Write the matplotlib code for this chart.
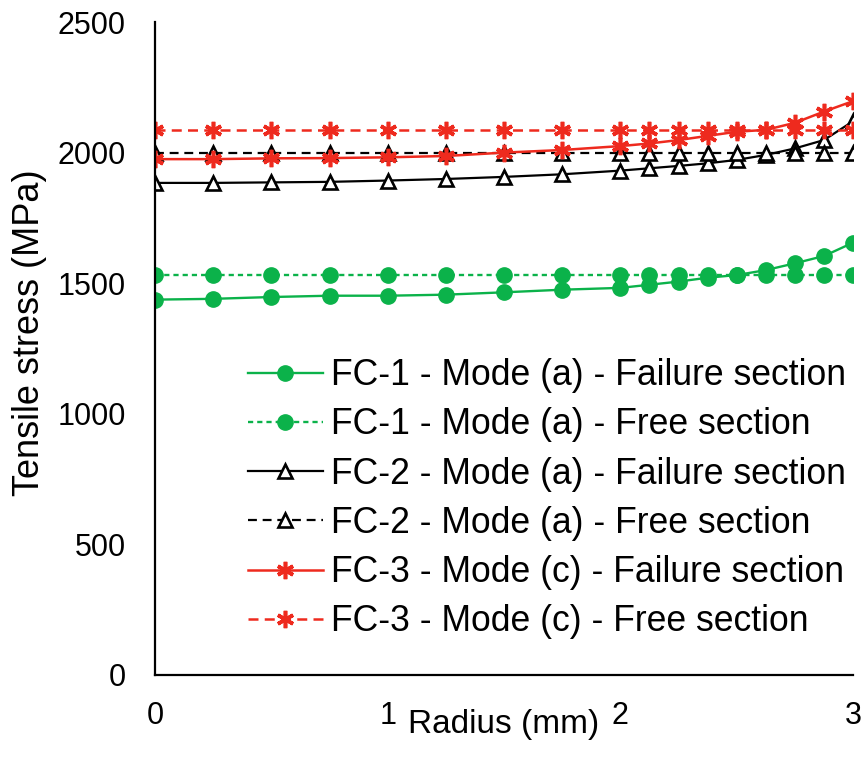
import matplotlib
matplotlib.use("Agg")
import matplotlib.pyplot as plt

plt.rcParams['font.family'] = ['Liberation Sans', 'DejaVu Sans']

# Radius positions (mm)
radius = [0, 0.25, 0.5, 0.75, 1.0, 1.25, 1.5, 1.75, 2.0,
          2.125, 2.25, 2.375, 2.5, 2.625, 2.75, 2.875, 3.0]

# Tensile stress (MPa)
fc1_failure = [1437, 1440, 1447, 1452, 1452, 1456, 1465, 1475, 1482,
               1494, 1506, 1521, 1531, 1550, 1576, 1604, 1655]
fc1_free = [1532] * 17
fc2_failure = [1884, 1884, 1886, 1888, 1893, 1899, 1907, 1917, 1931,
               1940, 1949, 1959, 1972, 1991, 2016, 2048, 2120]
fc2_free = [2000] * 17
fc3_failure = [1975, 1975, 1978, 1979, 1982, 1987, 2000, 2010, 2025,
               2035, 2048, 2064, 2080, 2087, 2114, 2157, 2197]
fc3_free = [2088] * 17

labels = ["FC-1 - Mode (a) - Failure section",
          "FC-1 - Mode (a) - Free section",
          "FC-2 - Mode (a) - Failure section",
          "FC-2 - Mode (a) - Free section",
          "FC-3 - Mode (c) - Failure section",
          "FC-3 - Mode (c) - Free section"]

x_ticks = [0, 1, 2, 3]
y_ticks = [0, 500, 1000, 1500, 2000, 2500]

GREEN = "#0BB24A"
RED = "#EE2A1E"
BLACK = "#000000"
star = (6, 2, 0)

fig = plt.figure(figsize=(8.66, 7.6), dpi=100)
ax = fig.add_axes([0.179, 0.112, 0.806, 0.859])

ax.plot(radius, fc1_failure, color=GREEN, lw=1.7, marker='o', ms=11,
        mec=GREEN, mfc=GREEN, label=labels[0])
ax.plot(radius, fc1_free, color=GREEN, lw=1.7, ls=(0, (2.2, 1.7)), marker='o', ms=11,
        mec=GREEN, mfc=GREEN, label=labels[1])
ax.plot(radius, fc2_failure, color=BLACK, lw=1.6, marker='^', ms=10,
        mec=BLACK, mfc='white', mew=1.9, label=labels[2])
ax.plot(radius, fc2_free, color=BLACK, lw=1.6, ls=(0, (4, 2.6)), marker='^', ms=10,
        mec=BLACK, mfc='white', mew=1.9, label=labels[3])
ax.plot(radius, fc3_failure, color=RED, lw=1.8, marker=star, ms=12.5,
        mec=RED, mew=2.6, label=labels[4])
ax.plot(radius, fc3_free, color=RED, lw=1.8, ls=(0, (4, 2.5)), marker=star, ms=12.5,
        mec=RED, mew=2.6, label=labels[5])

ax.set_xlim(0, 3)
ax.set_ylim(0, 2500)
ax.set_xticks(x_ticks)
ax.set_yticks(y_ticks)
ax.tick_params(axis='both', length=0, labelsize=22)
ax.tick_params(axis='x', pad=19)
ax.tick_params(axis='y', pad=21)

for side in ('top', 'right'):
    ax.spines[side].set_visible(False)
for side in ('left', 'bottom'):
    ax.spines[side].set_linewidth(1.6)

ax.set_xlabel("Radius (mm)", fontsize=24)
ax.xaxis.set_label_coords(0.5, -0.052)
fig.text(0.034, 1 - 333 / 760, "Tensile stress (MPa)", rotation=90,
         ha='center', va='center', fontsize=26)

ax.legend(loc='upper left', bbox_to_anchor=(0.133, 0.485), frameon=False,
          fontsize=25.6, handlelength=2.1, handletextpad=0.23,
          labelspacing=0.4, borderaxespad=0, borderpad=0)

fig.savefig("out.png", dpi=100)
